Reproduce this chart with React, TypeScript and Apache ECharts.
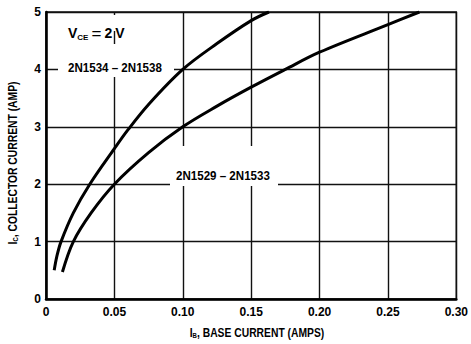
import React, { useEffect, useRef } from "react";
import * as echarts from "echarts";

const FONT = "'Liberation Sans', Arimo, Arial, sans-serif";
const W = "bold";

const xTicks = [0, 0.05, 0.1, 0.15, 0.2, 0.25, 0.3];
const yTicks = [0, 1, 2, 3, 4, 5];

const seriesUpperName = "2N1534 – 2N1538";
const upperIB = [0.006, 0.008, 0.011, 0.02, 0.032, 0.05, 0.06, 0.075, 0.1, 0.125, 0.15, 0.163];
const upperIC = [0.5, 0.75, 1.0, 1.5, 2.0, 2.62, 2.95, 3.39, 4.0, 4.45, 4.85, 5.0];

const seriesLowerName = "2N1529 – 2N1533";
const lowerIB = [0.012, 0.02, 0.033, 0.05, 0.075, 0.1, 0.125, 0.15, 0.175, 0.2, 0.25, 0.273];
const lowerIC = [0.47, 1.0, 1.5, 2.0, 2.55, 3.0, 3.36, 3.69, 4.0, 4.3, 4.78, 5.0];

const zip = (xs: number[], ys: number[]) => xs.map((x, i) => [x, ys[i]]);

const richSub = (size: number) => ({
  n: { fontFamily: FONT, fontSize: size, fontWeight: W, fill: "#000" },
  s: { fontFamily: FONT, fontSize: Math.round(size * 0.6), fontWeight: W, fill: "#000", verticalAlign: "bottom" },
});

export default function App() {
  const ref = useRef<HTMLDivElement>(null);
  useEffect(() => {
    document.body.style.margin = "0";
    if (!ref.current) return;
    const chart = echarts.init(ref.current, null, { renderer: "svg" });
    chart.setOption({
      animation: false,
      backgroundColor: "#fff",
      grid: { left: 46, right: 5, top: 12, bottom: 45, show: true, borderColor: "#111", borderWidth: 1.5, backgroundColor: "transparent" },
      xAxis: {
        type: "value",
        min: xTicks[0],
        max: xTicks[xTicks.length - 1],
        interval: 0.05,
        axisLine: { show: true, onZero: false, lineStyle: { color: "#000", width: 2.5 } },
        axisTick: { show: false },
        splitLine: { show: true, lineStyle: { color: "#111", width: 1.4 } },
        axisLabel: {
          color: "#000",
          fontFamily: FONT,
          fontWeight: W,
          fontSize: 12,
          margin: 7,
          formatter: (v: number) => (v === 0 ? "0" : v.toFixed(2)),
        },
      },
      yAxis: {
        type: "value",
        min: yTicks[0],
        max: yTicks[yTicks.length - 1],
        interval: 1,
        axisLine: { show: true, onZero: false, lineStyle: { color: "#000", width: 2.5 } },
        axisTick: { show: false },
        splitLine: { show: true, lineStyle: { color: "#111", width: 1.4 } },
        axisLabel: { color: "#000", fontFamily: FONT, fontWeight: W, fontSize: 12, margin: 5 },
      },
      graphic: [
        { type: "rect", z: 1, shape: { x: 62, y: 15, width: 64, height: 16 }, style: { fill: "#fff" } },
        { type: "rect", z: 1, shape: { x: 58, y: 44, width: 116, height: 33 }, style: { fill: "#fff" } },
        { type: "rect", z: 1, shape: { x: 170, y: 146, width: 108, height: 40 }, style: { fill: "#fff" } },
        {
          type: "text",
          z: 5,
          x: 68,
          y: 33,
          style: {
            text: "{n|V}{s|CE}{e|=}{n|2}{v|V}",
            verticalAlign: "middle",
            rich: {
              n: { fontFamily: FONT, fontSize: 14, fontWeight: W, fill: "#000" },
              v: { fontFamily: FONT, fontSize: 14, fontWeight: W, fill: "#000", padding: [0, 0, 0, 3] },
              e: { fontFamily: FONT, fontSize: 17, fill: "#000", width: 16, align: "center" },
              s: { fontFamily: FONT, fontSize: 8, fontWeight: W, fill: "#000", verticalAlign: "bottom" },
            },
          },
        },
        {
          type: "text",
          z: 5,
          x: 68,
          y: 68,
          scaleX: 0.89,
          style: { text: seriesUpperName, font: `${W} 13px ${FONT}`, fill: "#000", verticalAlign: "middle" },
        },
        {
          type: "text",
          z: 5,
          x: 176,
          y: 176,
          scaleX: 0.89,
          style: { text: seriesLowerName, font: `${W} 13px ${FONT}`, fill: "#000", verticalAlign: "middle" },
        },
        {
          type: "text",
          z: 5,
          x: 257,
          y: 333,
          scaleX: 0.86,
          style: {
            text: "{n|I}{s|B}{n|, BASE CURRENT (AMPS)}",
            align: "center",
            verticalAlign: "middle",
            rich: richSub(12),
          },
        },
        {
          type: "text",
          z: 5,
          x: 13,
          y: 163,
          rotation: Math.PI / 2,
          scaleX: 0.86,
          style: {
            text: "{n|I}{s|C}{n|, COLLECTOR CURRENT (AMP)}",
            align: "center",
            verticalAlign: "middle",
            rich: richSub(12),
          },
        },
      ],
      series: [
        {
          name: seriesUpperName,
          type: "line",
          data: zip(upperIB, upperIC),
          smooth: 0.35,
          showSymbol: false,
          z: 3,
          lineStyle: { color: "#000", width: 3 },
        },
        {
          name: seriesLowerName,
          type: "line",
          data: zip(lowerIB, lowerIC),
          smooth: 0.35,
          showSymbol: false,
          z: 3,
          lineStyle: { color: "#000", width: 3 },
        },
      ],
    });
    return () => chart.dispose();
  }, []);
  return <div ref={ref} style={{ width: 471, height: 344 }} />;
}
